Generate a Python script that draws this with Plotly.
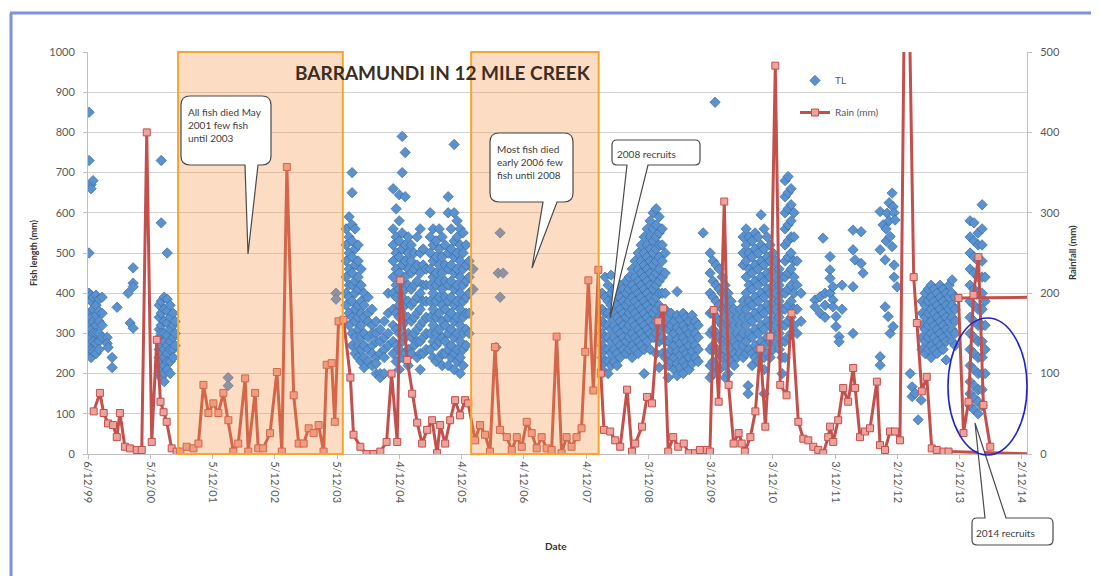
import plotly.graph_objects as go
from datetime import datetime

# ---------------- data ----------------
tick_dates = ["1999-12-06", "2000-12-05", "2001-12-05", "2002-12-05", "2003-12-05",
              "2004-12-04", "2005-12-04", "2006-12-04", "2007-12-04", "2008-12-03",
              "2009-12-03", "2010-12-03", "2011-12-03", "2012-12-02", "2013-12-02",
              "2014-12-02"]
tick_labels = ["6/12/99", "5/12/00", "5/12/01", "5/12/02", "5/12/03", "4/12/04",
               "4/12/05", "4/12/06", "4/12/07", "3/12/08", "3/12/09", "3/12/10",
               "3/12/11", "2/12/12", "2/12/13", "2/12/14"]

# monthly rainfall (decimal year, mm)
rain_year = [
    2000.02, 2000.12, 2000.18, 2000.25, 2000.33, 2000.39, 2000.44, 2000.52, 2000.60, 2000.71,
    2000.79, 2000.87, 2000.95, 2001.03, 2001.09, 2001.14, 2001.19, 2001.27, 2001.35,
    2001.41, 2001.51, 2001.62, 2001.70, 2001.78, 2001.86, 2001.94, 2002.02, 2002.10, 2002.18,
    2002.26, 2002.34, 2002.45, 2002.50, 2002.61, 2002.66, 2002.74, 2002.85, 2002.96, 2003.04,
    2003.12, 2003.23, 2003.31, 2003.39, 2003.47, 2003.55, 2003.63, 2003.71, 2003.76, 2003.84,
    2003.89, 2003.95, 2004.03,
    2004.14, 2004.19, 2004.30, 2004.40, 2004.51, 2004.62, 2004.72, 2004.80, 2004.89, 2004.94,
    2005.05, 2005.13, 2005.21, 2005.29, 2005.37, 2005.45, 2005.53, 2005.58, 2005.66, 2005.74,
    2005.82, 2005.90, 2005.98, 2006.03,
    2006.14, 2006.22, 2006.30, 2006.38, 2006.46, 2006.54, 2006.65, 2006.73, 2006.81, 2006.89,
    2006.97, 2007.05, 2007.13, 2007.21, 2007.29, 2007.37, 2007.45, 2007.53, 2007.61, 2007.69,
    2007.77, 2007.85, 2007.91, 2007.96, 2008.04, 2008.12, 2008.16, 2008.21,
    2008.31, 2008.39, 2008.47, 2008.58, 2008.66, 2008.71, 2008.82, 2008.90, 2008.98, 2009.08,
    2009.16, 2009.24, 2009.32, 2009.40, 2009.49, 2009.57, 2009.67, 2009.75, 2009.86, 2009.91,
    2009.97, 2010.05, 2010.14, 2010.21, 2010.29, 2010.37, 2010.42, 2010.47, 2010.56, 2010.64,
    2010.72, 2010.80, 2010.88, 2010.96, 2011.04, 2011.14, 2011.22, 2011.33, 2011.41, 2011.49,
    2011.57, 2011.65, 2011.73, 2011.81, 2011.84, 2011.89, 2011.97, 2012.05, 2012.13, 2012.21,
    2012.24, 2012.32, 2012.40, 2012.48, 2012.59, 2012.64, 2012.72, 2012.80, 2012.88, 2012.96,
    2013.04, 2013.10, 2013.18, 2013.23, 2013.31, 2013.39, 2013.47, 2013.55, 2013.66, 2013.74,
    2015.10, 2015.10, 2013.90, 2013.98, 2014.06, 2014.14, 2014.22, 2014.30, 2014.41,
]
rain_mm = [
    53, 76, 51, 38, 36, 21, 51, 9, 7, 5,
    5, 400, 15, 142, 65, 52, 40, 7, 3,
    3, 9, 7, 13, 86, 51, 63, 51, 76, 42,
    3, 13, 94, 3, 76, 7, 7, 26, 102, 3,
    357, 73, 13, 13, 32, 26, 36, 3, 111, 113,
    40, 165, 167,
    95, 24, 9, 0, 0, 3, 15, 100, 15, 216,
    117, 75, 39, 13, 30, 42, 1, 36, 13, 42,
    67, 48, 67, 63,
    17, 36, 24, 3, 133, 30, 21, 5, 21, 9,
    40, 26, 7, 21, 7, 5, 146, 1, 21, 9,
    21, 32, 127, 216, 79, 229, 100, 30,
    28, 17, 9, 80, 3, 13, 34, 71, 63, 165,
    181, 3, 21, 9, 13, 1, 1, 5, 5, 3,
    179, 65, 314, 86, 13, 26, 13, 3, 21, 53,
    131, 34, 146, 483, 86, 73, 175, 40, 19, 17,
    9, 5, 1, 21, 34, 15, 42, 82, 65, 107,
    82, 21, 28, 32, 90, 11, 5, 28, 28, 17,
    640, 600, 220, 163, 78, 96, 7, 5, 3, 3,
    0, 195, 194, 26, 65, 198, 245, 61, 9,
]

# fish total length: sampling date (decimal year) and lengths (mm) measured on it
tl_col_year = [
    1999.946, 1999.978, 2000.010, 2000.058, 2000.107, 2000.155, 2000.235, 2000.251, 2000.315,
    2000.395, 2000.572, 2000.604, 2000.652,
    2001.070, 2001.102, 2001.150, 2001.198, 2001.246, 2001.294, 2001.326,
    2002.177, 2003.910,
    2004.071, 2004.119, 2004.167, 2004.215, 2004.264, 2004.312, 2004.360, 2004.424, 2004.488,
    2004.552, 2004.617, 2004.681, 2004.745, 2004.825, 2004.873, 2004.922, 2004.970, 2005.018,
    2005.066, 2005.114, 2005.162, 2005.210, 2005.259, 2005.307, 2005.355, 2005.419, 2005.467,
    2005.515, 2005.564, 2005.612, 2005.660, 2005.708, 2005.756, 2005.804, 2005.852, 2005.901,
    2005.949, 2005.997, 2006.045,
    2006.109, 2006.478, 2006.511, 2006.543, 2006.591,
    2008.180, 2008.228, 2008.276, 2008.324, 2008.372, 2008.420, 2008.469, 2008.517, 2008.565,
    2008.613, 2008.661, 2008.709, 2008.758, 2008.806, 2008.854, 2008.902, 2008.950, 2008.998,
    2009.046, 2009.095, 2009.143, 2009.191, 2009.239, 2009.287, 2009.335, 2009.383, 2009.432,
    2009.480, 2009.528, 2009.576, 2009.624, 2009.672, 2009.720, 2009.801, 2009.993,
    2009.913, 2009.961, 2010.009, 2010.058, 2010.106, 2010.154, 2010.202, 2010.250, 2010.298,
    2010.346, 2010.395, 2010.443, 2010.491, 2010.523, 2010.539, 2010.587, 2010.635, 2010.684,
    2010.732, 2010.780, 2010.828, 2010.876, 2010.924, 2010.972, 2011.021, 2011.069, 2011.117,
    2011.165, 2011.213, 2011.261, 2011.309, 2011.374,
    2011.598, 2011.679, 2011.727, 2011.759, 2011.839, 2011.887, 2011.935, 2011.984, 2012.032,
    2012.208, 2012.240, 2012.337, 2012.369,
    2012.642, 2012.690, 2012.722, 2012.738, 2012.754, 2012.770, 2012.786, 2012.802, 2012.834,
    2012.850, 2012.866, 2012.882, 2012.914,
    2013.123, 2013.155, 2013.203, 2013.252, 2013.300,
    2013.316, 2013.364, 2013.412, 2013.460, 2013.508, 2013.556, 2013.605, 2013.653, 2013.701,
    2013.749, 2013.797, 2013.845,
    2014.086, 2014.150, 2014.215, 2014.279, 2014.327,
]
tl_col_mm = [
    [850, 730, 500, 400, 390, 350, 320, 300, 270, 250],
    [670, 660, 395, 380, 340, 310, 290, 260, 240],
    [680, 390, 360, 330, 300, 280, 255],
    [395, 370, 345, 320, 300, 275, 250],
    [385, 355, 330, 300, 280, 260],
    [390, 350, 320, 290],
    [290, 275], [265], [240, 215], [365], [400], [326], [463, 425, 416, 313],
    [370, 340, 310, 290, 260, 240, 220, 200],
    [730, 575, 380, 350, 320, 300, 270, 250, 230, 210, 190],
    [390, 360, 330, 300, 280, 260, 240, 220, 200, 180],
    [500, 385, 355, 325, 295, 270, 250, 230, 210],
    [370, 340, 310, 280, 260, 230, 200],
    [350, 320, 290, 260, 240],
    [330, 300, 270],
    [190, 170], [400, 385],
    [560, 520, 480, 440, 400, 370],
    [590, 540, 500, 460, 420, 390, 350, 320],
    [700, 650, 570, 530, 490, 450, 420, 380, 340, 300, 270],
    [560, 510, 470, 430, 400, 360, 330, 290, 250],
    [520, 480, 440, 410, 370, 340, 310, 270, 240],
    [460, 420, 380, 350, 320, 290, 260, 230],
    [400, 370, 340, 300, 270, 240, 215],
    [390, 350, 330, 290, 260, 230],
    [360, 320, 300, 270, 250, 220],
    [330, 300, 280, 240, 225, 200],
    [310, 280, 250, 200, 190],
    [330, 290, 260, 240, 200],
    [400, 350, 300, 270],
    [660, 560, 520, 480, 440, 400, 360, 320, 280, 250],
    [610, 540, 500, 460, 420, 390, 350, 310, 270, 230],
    [645, 580, 530, 490, 450, 410, 370, 340, 300, 260, 210],
    [790, 700, 550, 510, 470, 430, 390, 350, 320, 280, 240],
    [750, 640, 520, 480, 440, 410, 370, 330, 290, 250],
    [540, 500, 460, 420, 380, 340, 300, 260, 220],
    [520, 480, 450, 410, 370, 330, 290, 250],
    [500, 460, 420, 380, 340, 300, 270],
    [540, 470, 430, 390, 350, 310, 280, 240],
    [560, 500, 450, 400, 360, 320, 280, 250, 210],
    [510, 470, 420, 380, 330, 290, 250],
    [460, 420, 380, 340, 300, 260],
    [600, 540, 500, 460, 420, 380, 340, 300, 260],
    [560, 520, 480, 440, 400, 360, 320, 280, 240],
    [530, 490, 450, 420, 380, 340, 300, 270, 230],
    [560, 510, 470, 430, 390, 350, 310, 280, 240],
    [540, 490, 450, 410, 370, 330, 290, 250, 220],
    [520, 470, 430, 390, 360, 320, 280, 250],
    [640, 600, 500, 460, 420, 380, 340, 300, 260, 220],
    [560, 510, 470, 430, 390, 350, 310, 270, 240],
    [770, 600, 530, 490, 450, 410, 370, 330, 290, 250, 210],
    [580, 540, 500, 460, 420, 380, 340, 300, 260, 230],
    [560, 520, 480, 440, 400, 360, 320, 280, 240, 200],
    [550, 500, 460, 420, 380, 340, 300, 260, 220],
    [520, 470, 430, 390, 350, 310, 270],
    [480, 440, 400, 350, 300],
    [460, 410], [265], [450], [550, 390], [450],
    [400, 360, 330, 300, 270, 240, 210],
    [440, 390, 350, 320, 290, 260, 230],
    [420, 380, 350, 320, 290, 260, 230, 200],
    [445, 400, 370, 340, 310, 280, 250, 220],
    [410, 380, 350, 320, 290, 260, 230],
    [400, 370, 340, 310, 280, 250, 220],
    [420, 390, 360, 330, 300, 270, 240],
    [410, 380, 350, 320, 290, 260],
    [430, 400, 370, 340, 310, 280, 250],
    [440, 410, 380, 350, 320, 290, 260],
    [460, 420, 390, 360, 330, 300, 270, 240],
    [480, 440, 410, 380, 350, 320, 290, 260],
    [500, 460, 430, 400, 370, 340, 310, 280, 250],
    [520, 480, 450, 420, 390, 360, 330, 300, 270],
    [540, 500, 470, 440, 410, 380, 350, 320, 290, 260, 200],
    [560, 520, 490, 460, 430, 400, 370, 340, 310, 280],
    [580, 540, 510, 480, 450, 420, 390, 360, 330, 300, 260],
    [600, 560, 530, 500, 470, 440, 410, 380, 350, 320, 290],
    [610, 570, 540, 510, 480, 450, 420, 390, 360, 330, 300, 250],
    [590, 550, 520, 490, 460, 430, 400, 370, 340, 310, 280, 215],
    [560, 520, 480, 440, 400, 360, 320, 290, 250],
    [500, 450, 400, 360, 320, 280, 240],
    [340, 310, 280, 250, 220, 190],
    [350, 320, 290, 260, 230],
    [330, 300, 270, 240, 210],
    [404, 345, 315, 285, 255, 225, 195],
    [335, 305, 275, 245, 215],
    [350, 320, 290, 260, 230, 200],
    [340, 310, 280, 250, 220],
    [330, 300, 270, 240, 210],
    [345, 315, 285, 255, 225],
    [330, 300, 270, 240],
    [320, 290, 260, 230],
    [550], [875],
    [500, 450, 400, 350, 300, 260, 220, 190],
    [480, 430, 390, 350, 310, 270, 230, 200],
    [470, 420, 380, 340, 300, 260, 220],
    [460, 410, 370, 330, 290, 250, 210],
    [440, 400, 360, 320, 280, 240],
    [420, 380, 340, 300, 260, 220, 190],
    [400, 360, 320, 280, 240, 200],
    [380, 340, 300, 260, 230],
    [360, 320, 280, 250, 220],
    [340, 300, 270, 240],
    [360, 320, 290, 250],
    [540, 500, 470, 380, 340, 300, 270, 240],
    [560, 520, 480, 440, 400, 360, 320, 280, 250],
    [170, 150],
    [540, 500, 460, 420, 380, 340, 300, 260],
    [530, 490, 450, 410, 370, 330, 290, 250, 220],
    [550, 510, 470, 430, 390, 350, 310, 270, 240],
    [540, 500, 460, 420, 380, 340, 300, 260, 230],
    [595, 520, 480, 440, 400, 360, 320, 280, 250],
    [560, 510, 470, 430, 390, 350, 310, 270, 240, 210, 150],
    [540, 490, 450, 410, 370, 330, 290, 250],
    [520, 480, 440, 400, 360, 320, 280, 240],
    [500, 460, 420, 380, 340, 300, 260],
    [480, 440, 400, 360, 320, 280],
    [460, 420, 380, 340, 300, 260],
    [440, 400, 360, 320, 280, 240, 200],
    [680, 640, 600, 560, 520, 480, 440, 400, 360, 320, 280, 240],
    [690, 650, 610, 570, 530, 490, 450, 410, 370, 330, 290],
    [660, 620, 580, 540, 500, 460, 420, 380, 340, 300],
    [600, 540, 480, 440, 400, 360, 320],
    [480, 420, 360, 300],
    [400, 330],
    [383, 366], [391, 350], [537], [400, 370, 340],
    [491, 458, 437, 400], [416, 383, 366], [342, 317], [292, 279], [420, 360],
    [557, 508, 416, 300], [483], [553, 474], [450],
    [603, 508, 242, 221], [570], [483, 366], [560, 530], [599], [342], [625, 580],
    [541, 300], [649, 516], [615, 317], [600, 470, 440], [582], [416],
    [200], [143, 167], [151], [85], [134],
    [380, 350, 320, 290, 260],
    [400, 370, 340, 310, 280, 250],
    [410, 380, 350, 320, 290, 260],
    [420, 390, 360, 330, 300, 270, 240],
    [410, 380, 350, 320, 290, 260],
    [400, 370, 340, 310, 280, 250],
    [420, 390, 360, 330, 300, 270],
    [410, 380, 350, 320, 290, 260],
    [400, 370, 340, 310, 280, 234],
    [420, 390, 360, 330, 300],
    [433, 400, 370, 340, 310, 280],
    [390, 360, 330, 300, 270],
    [580, 540, 500, 460, 420, 380, 340, 300, 260, 220, 180, 150, 120],
    [575, 530, 490, 450, 410, 370, 330, 290, 250, 210, 170, 140, 110],
    [550, 520, 480, 440, 400, 360, 320, 280, 240, 200, 160, 130, 100],
    [620, 560, 520, 480, 440, 400, 360, 320, 280, 240, 200, 160, 120],
    [440, 380, 320, 260, 200],
]

# ---------------- helpers ----------------
def yr2dt(y):
    yi = int(y)
    a = datetime(yi, 1, 1)
    b = datetime(yi + 1, 1, 1)
    return a + (b - a) * (y - yi)

tl_x, tl_y = [], []
for yr, vals in zip(tl_col_year, tl_col_mm):
    for v in vals:
        tl_x.append(yr2dt(yr))
        tl_y.append(v)
rain_x = [yr2dt(y) for y in rain_year]

# screen geometry (page body has an 8px margin)
OFF = 8
SW, SH = 1099, 576
W, H = SW - OFF, SH - OFF
L, R, T, B = 88, 1027, 52, 454   # plot area edges in screen pixels

def px(x):
    return (x - L) / (R - L)

def py(y):
    return (B - y) / (B - T)

def bubble(x0, y0, x1, y1, r, ta, tb, tip, top=False):
    s = f"M{px(x0 + r)},{py(y0)}"
    if top:
        s += f" L{px(ta)},{py(y0)} L{px(tip[0])},{py(tip[1])} L{px(tb)},{py(y0)}"
    s += f" L{px(x1 - r)},{py(y0)} Q{px(x1)},{py(y0)} {px(x1)},{py(y0 + r)}"
    s += f" L{px(x1)},{py(y1 - r)} Q{px(x1)},{py(y1)} {px(x1 - r)},{py(y1)}"
    if not top:
        s += f" L{px(tb)},{py(y1)} L{px(tip[0])},{py(tip[1])} L{px(ta)},{py(y1)}"
    s += f" L{px(x0 + r)},{py(y1)} Q{px(x0)},{py(y1)} {px(x0)},{py(y1 - r)}"
    s += f" L{px(x0)},{py(y0 + r)} Q{px(x0)},{py(y0)} {px(x0 + r)},{py(y0)} Z"
    return s

FONT = "Lato, 'Open Sans', sans-serif"
GREY = "#595959"

fig = go.Figure()
fig.add_trace(go.Scatter(
    x=tl_x, y=tl_y, mode="markers", name="TL", legendgroup="tl",
    marker=dict(symbol="diamond", size=8, color="#5A92CF",
                line=dict(color="#3A6BA5", width=0.7)),
))
fig.add_trace(go.Scatter(
    x=rain_x, y=rain_mm, mode="lines+markers", name="Rain (mm)", yaxis="y2",
    legendgroup="rain",
    line=dict(color="#C4504C", width=3),
    marker=dict(symbol="square", size=7, color="#ECA29D",
                line=dict(color="#C4504C", width=1)),
))

shapes = []
# shaded periods
for a, b in [("2001-05-17", "2004-01-08"), ("2006-01-29", "2008-02-16")]:
    shapes.append(dict(type="rect", xref="x", yref="paper", x0=a, x1=b, y0=0, y1=1,
                       fillcolor="#F79646", opacity=0.33, line=dict(width=0),
                       layer="above"))
    shapes.append(dict(type="rect", xref="x", yref="paper", x0=a, x1=b, y0=0, y1=1,
                       fillcolor="rgba(0,0,0,0)", line=dict(color="#F5A631", width=2),
                       layer="above"))
# callouts
callout_line = dict(color="#4A4A4A", width=1.2)
shapes.append(dict(type="path", xref="paper", yref="paper", layer="above",
                   path=bubble(181, 96, 271, 165, 9, 245, 258, (248, 254)),
                   fillcolor="white", line=callout_line))
shapes.append(dict(type="path", xref="paper", yref="paper", layer="above",
                   path=bubble(490, 133, 573, 202, 9, 543, 557, (532, 268)),
                   fillcolor="white", line=callout_line))
shapes.append(dict(type="path", xref="paper", yref="paper", layer="above",
                   path=bubble(612, 140, 700, 165, 5, 627, 648, (610, 318)),
                   fillcolor="white", line=callout_line))
shapes.append(dict(type="path", xref="paper", yref="paper", layer="above",
                   path=bubble(972, 518, 1053, 545, 5, 985, 1006, (975, 423), top=True),
                   fillcolor="white", line=callout_line))
# ellipse around 2014 recruits
shapes.append(dict(type="circle", xref="paper", yref="paper", layer="above",
                   x0=px(948), x1=px(1027), y0=py(455), y1=py(318),
                   line=dict(color="#2424C4", width=1.6)))
# outer frame
frame = dict(color="#7F90DE", width=3)
shapes.append(dict(type="line", xref="paper", yref="paper", x0=px(10), x1=px(1094),
                   y0=py(13), y1=py(13), line=frame))
shapes.append(dict(type="line", xref="paper", yref="paper", x0=px(11), x1=px(11),
                   y0=py(13), y1=py(600), line=frame))
shapes.append(dict(type="line", xref="paper", yref="paper", x0=px(1093), x1=px(1093),
                   y0=py(13), y1=py(600), line=dict(color="#C9D0F0", width=2)))

ann = []
def text(x, y, s, size=10, bold=False, xanchor="left", yanchor="top", angle=0,
         color="#404040"):
    ann.append(dict(x=px(x), y=py(y), xref="paper", yref="paper", text=s,
                    showarrow=False, xanchor=xanchor, yanchor=yanchor, align="left",
                    textangle=angle,
                    font=dict(family=FONT, size=size, color=color,
                              weight="bold" if bold else "normal")))

text(443, 72, "BARRAMUNDI IN 12 MILE CREEK", size=19, bold=True, xanchor="center",
     yanchor="middle", color="#3B2E1F")
text(186, 104, "All fish died May<br>2001 few fish<br>until 2003", size=10)
text(495, 141, "Most fish died<br>early 2006 few<br>fish until 2008", size=10)
text(615, 146, "2008 recruits", size=10)
text(974, 525, "2014 recruits", size=10)
text(33, 253, "Fish length (mm)", size=9, bold=True, xanchor="center",
     yanchor="middle", angle=-90, color="#333333")
text(1072, 253, "Rainfall (mm)", size=9.5, bold=True, xanchor="center",
     yanchor="middle", angle=-90, color="#333333")
text(556, 546, "Date", size=10, bold=True, xanchor="center", yanchor="middle",
     color="#333333")

axis_font = dict(family=FONT, size=11, color=GREY)
fig.update_layout(
    width=W, height=H,
    margin=dict(l=L - OFF, r=SW - R, t=T - OFF, b=SH - B),
    paper_bgcolor="white", plot_bgcolor="white",
    font=dict(family=FONT),
    showlegend=True,
    legend=dict(x=px(795), y=py(66), xanchor="left", yanchor="top",
                bgcolor="rgba(0,0,0,0)", font=dict(family=FONT, size=10, color=GREY),
                tracegroupgap=13),
    xaxis=dict(type="date", range=["1999-12-06", "2015-01-01"],
               tickmode="array", tickvals=tick_dates, ticktext=tick_labels,
               tickangle=90, tickfont=axis_font, showgrid=False, zeroline=False,
               showline=True, linecolor="#BFBFBF", linewidth=1,
               ticks="outside", ticklen=4, tickcolor="#BFBFBF"),
    yaxis=dict(range=[0, 1000], dtick=100, tickfont=axis_font, showgrid=True,
               gridcolor="#D3D3D3", gridwidth=1, zeroline=False, showline=True,
               linecolor="#BFBFBF", ticks="outside", ticklen=4, tickcolor="#BFBFBF",
               ticklabelstandoff=6),
    yaxis2=dict(range=[0, 500], dtick=100, overlaying="y", side="right",
                tickfont=axis_font, showgrid=False, zeroline=False, showline=True,
                linecolor="#BFBFBF", ticks="outside", ticklen=4, tickcolor="#BFBFBF",
                ticklabelstandoff=6),
    shapes=shapes,
    annotations=ann,
)

fig.write_html("out.html")
